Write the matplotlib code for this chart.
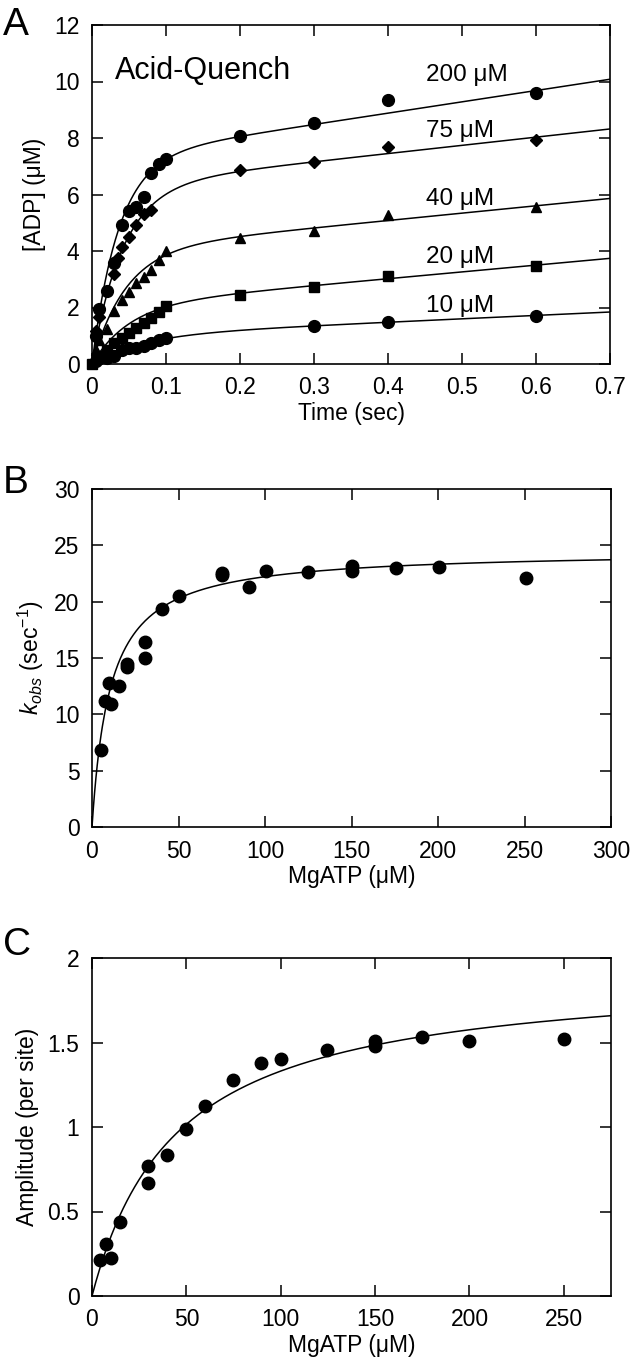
import numpy as np
import matplotlib.pyplot as plt
from matplotlib.ticker import MultipleLocator, FuncFormatter

plt.rcParams['font.family'] = ['Liberation Sans', 'DejaVu Sans']
plt.rcParams['mathtext.fontset'] = 'custom'
plt.rcParams['mathtext.rm'] = 'Liberation Sans'
plt.rcParams['mathtext.it'] = 'Liberation Sans:italic'

# --- Panel A: acid-quench time courses ---
t_200 = [0.005, 0.01, 0.02, 0.03, 0.04, 0.05, 0.06, 0.07, 0.08, 0.09, 0.1, 0.2, 0.3, 0.4, 0.6]
adp_200 = [1.0, 1.95, 2.6, 3.57, 4.93, 5.43, 5.56, 5.91, 6.75, 7.07, 7.27, 8.06, 8.54, 9.33, 9.61]
t_75 = [0.005, 0.01, 0.02, 0.03, 0.035, 0.04, 0.05, 0.06, 0.07, 0.08, 0.2, 0.3, 0.4, 0.6]
adp_75 = [1.18, 1.65, 2.6, 3.2, 3.74, 4.15, 4.5, 4.93, 5.3, 5.46, 6.85, 7.15, 7.69, 7.94]
t_40 = [0.005, 0.01, 0.02, 0.03, 0.04, 0.05, 0.06, 0.07, 0.08, 0.09, 0.1, 0.2, 0.3, 0.4, 0.6]
adp_40 = [0.5, 0.85, 1.25, 1.89, 2.25, 2.55, 2.85, 3.08, 3.32, 3.68, 4.0, 4.45, 4.71, 5.26, 5.56]
t_20 = [0.0, 0.01, 0.02, 0.03, 0.04, 0.05, 0.06, 0.07, 0.08, 0.09, 0.1, 0.2, 0.3, 0.4, 0.6]
adp_20 = [0.0, 0.3, 0.5, 0.75, 0.92, 1.1, 1.28, 1.45, 1.62, 1.85, 2.07, 2.45, 2.73, 3.11, 3.48]
t_10 = [0.005, 0.01, 0.02, 0.03, 0.04, 0.05, 0.06, 0.07, 0.08, 0.09, 0.1, 0.3, 0.4, 0.6]
adp_10 = [0.1, 0.2, 0.22, 0.29, 0.5, 0.56, 0.57, 0.63, 0.75, 0.85, 0.92, 1.35, 1.48, 1.71]

# burst fit parameters (amplitude, rate, steady-state slope) per concentration
conc_labels = ['200 μM', '75 μM', '40 μM', '20 μM', '10 μM']
label_y = [10.0, 8.03, 5.64, 3.57, 1.83]
burst_amp = [7.28, 6.29, 4.04, 2.06, 1.0]
burst_k = [28, 24, 22, 20, 15]
burst_v = [4.0, 2.9, 2.6, 2.4, 1.2]

# --- Panel B: kobs vs MgATP ---
atp_b = [5, 7.5, 10, 10.8, 15.6, 20.4, 20.4, 30.6, 30.6, 40.3, 50.3, 75.3, 75.3, 90.7, 100.4,
         125, 150, 150, 175.5, 200.6, 250.7]
kobs = [6.83, 11.2, 12.75, 10.96, 12.5, 14.5, 14.2, 16.4, 15.0, 19.35, 20.5, 22.55, 22.4, 21.3, 22.7,
        22.65, 23.15, 22.7, 23.0, 23.1, 22.1]
kmax, k_half = 24.55, 10.5

# --- Panel C: amplitude vs MgATP ---
atp_c = [4.0, 7.2, 9.9, 14.6, 29.6, 29.6, 39.7, 49.6, 59.7, 74.7, 89.7, 100, 124.5, 150, 150, 175, 200, 250]
amp = [0.213, 0.306, 0.227, 0.436, 0.771, 0.667, 0.834, 0.986, 1.126, 1.278, 1.377, 1.40, 1.456,
       1.48, 1.51, 1.53, 1.51, 1.52]
amax, a_half = 1.93, 45.0

W, H = 633, 1361
fig = plt.figure(figsize=(W / 100, H / 100), dpi=100)
axA = fig.add_axes([92 / W, 1 - 364 / H, 518 / W, 339 / H])
axB = fig.add_axes([92 / W, 1 - 827 / H, 519 / W, 338 / H])
axC = fig.add_axes([92 / W, 1 - 1296 / H, 519 / W, 338 / H])

fmt = FuncFormatter(lambda v, p: '%g' % round(v, 3))
FS = 16.5


def style(ax, xmaj, ymaj):
    ax.xaxis.set_major_locator(MultipleLocator(xmaj))
    ax.yaxis.set_major_locator(MultipleLocator(ymaj))
    ax.xaxis.set_major_formatter(fmt)
    ax.yaxis.set_major_formatter(fmt)
    ax.tick_params(direction='in', top=True, right=True, length=8, width=1.1,
                   labelsize=FS, pad=9)
    for s in ax.spines.values():
        s.set_linewidth(1.2)


# Panel A
tt = np.linspace(0, 0.7, 400)
series = [(t_200, adp_200, 'o', 8.5), (t_75, adp_75, 'D', 6), (t_40, adp_40, '^', 7.5),
          (t_20, adp_20, 's', 7.5), (t_10, adp_10, 'o', 8.5)]
for i, (t, y, m, ms) in enumerate(series):
    fit = burst_amp[i] * (1 - np.exp(-burst_k[i] * tt)) + burst_v[i] * tt
    axA.plot(tt, fit, color='black', lw=1.1)
    axA.plot(t, y, m, color='black', ms=ms, clip_on=False)
    axA.text(0.452, label_y[i], conc_labels[i], fontsize=17.5, va='baseline')
axA.text(0.031, 10.1, 'Acid-Quench', fontsize=22, va='baseline')
axA.set_xlim(0, 0.7)
axA.set_ylim(0, 12)
axA.set_xlabel('Time (sec)', fontsize=FS, labelpad=2)
axA.set_ylabel('[ADP] (μM)', fontsize=FS, labelpad=6)
style(axA, 0.1, 2)

# Panel B
xb = np.linspace(0, 300, 400)
axB.plot(xb, kmax * xb / (k_half + xb), color='black', lw=1.1)
axB.plot(atp_b, kobs, 'o', color='black', ms=9)
axB.set_xlim(0, 300)
axB.set_ylim(0, 30)
axB.set_xlabel('MgATP (μM)', fontsize=FS, labelpad=2)
axB.set_ylabel('$k_{obs}$ (sec$^{-1}$)', fontsize=FS, labelpad=6)
style(axB, 50, 5)

# Panel C
xc = np.linspace(0, 275, 400)
axC.plot(xc, amax * xc / (a_half + xc), color='black', lw=1.1)
axC.plot(atp_c, amp, 'o', color='black', ms=9)
axC.set_xlim(0, 275)
axC.set_ylim(0, 2)
axC.set_xlabel('MgATP (μM)', fontsize=FS, labelpad=2)
axC.set_ylabel('Amplitude (per site)', fontsize=FS, labelpad=6)
style(axC, 50, 0.5)

fig.text(3 / W, 1 - 35 / H, 'A', fontsize=28, va='baseline')
fig.text(3 / W, 1 - 493 / H, 'B', fontsize=28, va='baseline')
fig.text(3 / W, 1 - 955 / H, 'C', fontsize=28, va='baseline')

fig.savefig('out.png', dpi=100)
